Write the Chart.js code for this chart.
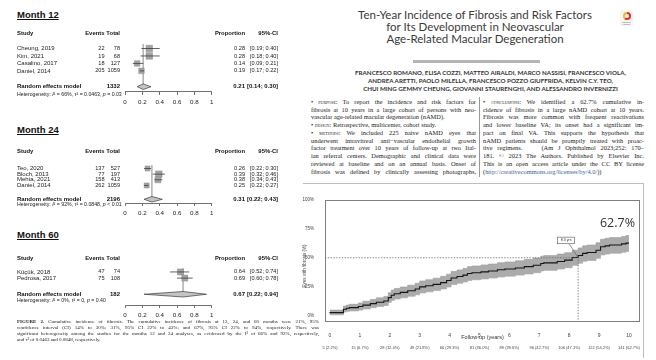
<!DOCTYPE html>
<html>
<head>
<meta charset="utf-8">
<script src="https://cdn.jsdelivr.net/npm/chart.js@4.4.1/dist/chart.umd.min.js"></script>
<style>
  body { margin: 0; background: #fff; }
  #page { position: relative; width: 656px; height: 360px; overflow: hidden; background: #fff; color: #222; font-family: "Liberation Serif", serif; }
  .abs { position: absolute; }
  .mtitle { font: bold 9.5px "Liberation Sans", Arial, sans-serif; text-decoration: underline; color: #111; white-space: nowrap; }
  .ttl { left: 330px; top: 9px; width: 290px; text-align: center; font: 11.5px/12px Lato, sans-serif; color: #3a3a3a; white-space: nowrap; }
  .auth { left: 330px; top: 68.9px; width: 321px; text-align: center; font: bold 6.2px/8.2px Lato, sans-serif; color: #333; white-space: nowrap; }
  .col { font: 6.4px/7.75px "Liberation Serif", serif; color: #222; }
  .col div, #cap div { white-space: nowrap; overflow: visible; }
  .j { text-align: justify; text-align-last: justify; }
  .sc { font-variant: small-caps; }
  #cap { left: 17px; top: 318.8px; width: 302px; font: 5px/6.1px "Liberation Serif", serif; color: #222; }
  canvas { position: absolute; }
</style>
</head>
<body>
<div id="page">
  <div class="abs mtitle" style="left:17px;top:9px">Month 12</div>
  <div class="abs mtitle" style="left:17px;top:124px">Month 24</div>
  <div class="abs mtitle" style="left:17px;top:229px">Month 60</div>
  <canvas id="f12" width="310" height="10"></canvas>
  <canvas id="f24" width="310" height="10"></canvas>
  <canvas id="f60" width="310" height="10"></canvas>

  <div class="abs ttl">Ten-Year Incidence of Fibrosis and Risk Factors<br>for Its Development in Neovascular<br>Age-Related Macular Degeneration</div>
  <div class="abs" style="left:620px;top:10px;width:13px;height:16px;background:#f4f4f4;border-radius:1px">
    <div style="position:absolute;left:2.5px;top:1.5px;width:8px;height:8px;border-radius:50%;background:conic-gradient(#d9302c 0 60%,#f2b632 60% 100%)"></div>
    <div style="position:absolute;left:4.5px;top:3.5px;width:4px;height:4px;border-radius:50%;background:#f4f4f4"></div>
    <div style="position:absolute;left:0;top:11px;width:13px;text-align:center;font:2px/2.2px sans-serif;color:#666">Check for<br>updates</div>
  </div>
  <div class="abs" style="left:413px;top:60px;width:127px;height:3px;background:#b4b4b4"></div>
  <div class="abs auth">FRANCESCO ROMANO, ELISA COZZI, MATTEO AIRALDI, MARCO NASSISI, FRANCESCO VIOLA,<br>ANDREA ARETTI, PAOLO MILELLA, FRANCESCO POZZO GIUFFRIDA, KELVIN C.Y. TEO,<br>CHUI MING GEMMY CHEUNG, GIOVANNI STAURENGHI, AND ALESSANDRO INVERNIZZI</div>

  <div class="abs col" style="left:311px;top:97.8px;width:165px">
    <div class="j"><span class="sc">• purpose:</span> To report the incidence and risk factors for</div>
    <div class="j">fibrosis at 10 years in a large cohort of persons with neo-</div>
    <div>vascular age-related macular degeneration (nAMD).</div>
    <div><span class="sc">• design:</span> Retrospective, multicenter, cohort study.</div>
    <div class="j"><span class="sc">• methods:</span> We included 225 naive nAMD eyes that</div>
    <div class="j">underwent intravitreal anti−vascular endothelial growth</div>
    <div class="j">factor treatment over 10 years of follow-up at two Ital-</div>
    <div class="j">ian referral centers. Demographic and clinical data were</div>
    <div class="j">reviewed at baseline and on an annual basis. Onset of</div>
    <div class="j">fibrosis was defined by clinically assessing photographs,</div>
  </div>
  <div class="abs" style="left:479px;top:97px;width:0.7px;height:80px;background:#999"></div>
  <div class="abs col" style="left:483px;top:97.8px;width:161px">
    <div class="j"><span class="sc">• conclusions:</span> We identified a 62.7% cumulative in-</div>
    <div class="j">cidence of fibrosis in a large nAMD cohort at 10 years.</div>
    <div class="j">Fibrosis was more common with frequent reactivations</div>
    <div class="j">and lower baseline VA; its onset had a significant im-</div>
    <div class="j">pact on final VA. This supports the hypothesis that</div>
    <div class="j">nAMD patients should be promptly treated with proac-</div>
    <div class="j">tive regimens. &nbsp;&nbsp;&nbsp;(Am J Ophthalmol 2023;252: 170–</div>
    <div class="j">181. © 2023 The Authors. Published by Elsevier Inc.</div>
    <div class="j">This is an open access article under the CC BY license</div>
    <div>(<span style="color:#3b5f9e">http://creativecommons.org/licenses/by/4.0/</span>))</div>
  </div>

  <div class="abs" style="left:303px;top:183px;width:340px;height:174px;border:1px solid #bdbdbd;border-left:none;border-bottom:none"></div>
  <canvas id="km" width="355" height="166" style="left:290px;top:190px"></canvas>

  <div id="cap" class="abs">
    <div class="j"><b>FIGURE 2.</b> Cumulative incidence of fibrosis. The cumulative incidence of fibrosis at 12, 24, and 60 months were 21%, 95%</div>
    <div class="j">confidence interval (CI) 14% to 30%; 31%, 95% CI 22% to 43%; and 67%, 95% CI 22% to 94%, respectively. There was</div>
    <div class="j">significant heterogeneity among the studies for the months 12 and 24 analyses, as evidenced by the I² of 66% and 92%, respectively,</div>
    <div>and τ² of 0.0463 and 0.0848, respectively.</div>
  </div>
</div>

<script>
// forest plots (proportions, random effects)
const forestTicks = [0, 0.2, 0.4, 0.6, 0.8, 1];

const m12Study = ['Cheung, 2019', 'Kim, 2021', 'Casalino, 2017', 'Daniel, 2014'];
const m12Events = [22, 19, 18, 205];
const m12Total = [78, 68, 127, 1059];
const m12Prop = [0.28, 0.28, 0.14, 0.19];
const m12Lower = [0.19, 0.18, 0.09, 0.17];
const m12Upper = [0.40, 0.40, 0.21, 0.22];
const m12Pooled = [0.21, 0.14, 0.30];
const m12N = 1332;
const m12Het = ['66%', '0.0463', ' = 0.03'];

const m24Study = ['Teo, 2020', 'Bloch, 2013', 'Mehta, 2021', 'Daniel, 2014'];
const m24Events = [137, 77, 158, 262];
const m24Total = [527, 197, 413, 1059];
const m24Prop = [0.26, 0.39, 0.38, 0.25];
const m24Lower = [0.22, 0.32, 0.34, 0.22];
const m24Upper = [0.30, 0.46, 0.43, 0.27];
const m24Pooled = [0.31, 0.22, 0.43];
const m24N = 2196;
const m24Het = ['92%', '0.0848', ' < 0.01'];

const m60Study = ['Küçük, 2018', 'Pedrosa, 2017'];
const m60Events = [47, 75];
const m60Total = [74, 108];
const m60Prop = [0.64, 0.69];
const m60Lower = [0.52, 0.60];
const m60Upper = [0.74, 0.78];
const m60Pooled = [0.67, 0.22, 0.94];
const m60N = 182;
const m60Het = ['0%', '0', ' = 0.40'];

// cumulative incidence curve
const kmYears = [0, 0.45, 0.55, 0.65, 0.95, 1.1, 1.35, 1.55, 1.8, 1.95, 2.05, 2.15, 2.35, 2.6, 2.85, 3.0, 3.2, 3.45, 3.7, 3.9, 4.05, 4.25, 4.45, 4.6, 4.75, 5.05, 5.3, 5.6, 5.85, 6.2, 6.5, 6.8, 7.05, 7.15, 7.6, 7.85, 8.1, 8.3, 8.45, 8.6, 8.9, 9.05, 9.2, 9.35, 9.75, 9.9, 10.0];
const kmCum = [2.0, 2.5, 5.5, 6.3, 6.8, 7.8, 9.0, 10.3, 11.5, 12.6, 15.5, 17.5, 18.8, 20.0, 21.5, 23.0, 24.8, 25.8, 27.0, 28.5, 30.3, 32.5, 33.8, 35.0, 36.4, 37.0, 37.8, 38.6, 39.6, 40.3, 41.2, 42.3, 43.5, 45.0, 45.6, 46.8, 48.0, 50.2, 52.0, 53.8, 54.5, 56.5, 59.5, 60.3, 61.0, 62.0, 62.7];
const kmLower = [0.4, 0.6, 3.0, 3.6, 4.0, 4.7, 5.7, 6.8, 7.8, 8.7, 11.3, 13.1, 14.3, 15.4, 16.7, 18.0, 19.6, 20.5, 21.6, 23.0, 24.7, 26.8, 28.0, 29.1, 30.4, 31.0, 31.7, 32.5, 33.4, 34.1, 35.0, 36.0, 37.1, 38.6, 39.1, 40.3, 41.4, 43.5, 45.3, 47.0, 47.7, 49.6, 52.5, 53.2, 53.9, 54.8, 55.5];
const kmUpper = [4.2, 4.7, 8.2, 9.1, 9.7, 10.9, 12.4, 13.9, 15.3, 16.5, 19.8, 22.0, 23.4, 24.7, 26.3, 28.0, 29.9, 31.0, 32.3, 33.9, 35.8, 38.1, 39.5, 40.8, 42.3, 42.9, 43.8, 44.6, 45.7, 46.4, 47.4, 48.5, 49.8, 51.3, 51.9, 53.2, 54.4, 56.6, 58.5, 60.3, 61.0, 63.0, 66.0, 66.8, 67.5, 68.5, 69.2];
const kmTickYears = [0, 1, 2, 3, 4, 5, 6, 7, 8, 9, 10];
const kmAtRisk = ['5 (2.2%)', '15 (6.7%)', '28 (12.4%)', '49 (21.8%)', '66 (29.3%)', '81 (36.0%)', '89 (39.6%)', '96 (42.7%)', '106 (47.1%)', '122 (54.2%)', '141 (62.7%)'];
const kmPctTicks = [0, 25, 50, 75, 100];
const kmMedian = 8.3;
const kmFinalLabel = '62.7%';

const SANS = '"Liberation Sans", Arial, sans-serif';

// page layout of the three panels (pixels)
const panels = [
  { id: 'f12', study: m12Study, events: m12Events, total: m12Total, prop: m12Prop, lo: m12Lower, hi: m12Upper, pooled: m12Pooled, n: m12N, het: m12Het,
    headY: 29, firstY: 45, rowPx: 8, sumY: 86, axisY: 91.7, hetY: 94, box: [6.5, 6.5, 5.5, 5.5] },
  { id: 'f24', study: m24Study, events: m24Events, total: m24Total, prop: m24Prop, lo: m24Lower, hi: m24Upper, pooled: m24Pooled, n: m24N, het: m24Het,
    headY: 146.7, firstY: 165, rowPx: 6.1, sumY: 198.3, axisY: 202.3, hetY: 204.3, box: [5, 6.5, 6, 5] },
  { id: 'f60', study: m60Study, events: m60Events, total: m60Total, prop: m60Prop, lo: m60Lower, hi: m60Upper, pooled: m60Pooled, n: m60N, het: m60Het,
    headY: 254, firstY: 269, rowPx: 6.7, sumY: 293.3, axisY: 305, hetY: 300, box: [6, 6] }
];

function drawRuns(ctx, x, y, runs, size) {
  runs.forEach(function(r) {
    ctx.font = r[1] + ' ' + size + 'px ' + SANS;
    ctx.fillText(r[0], x, y);
    x += ctx.measureText(r[0]).width;
  });
}

function forestTextPlugin(p) {
  return {
    id: 'forestText',
    afterDraw(chart) {
      const ctx = chart.ctx;
      const y = chart.scales.y;
      const row = v => y.getPixelForValue(v);
      const headRow = (p.headY - p.firstY) / p.rowPx;
      const sumRow = (p.sumY - p.firstY) / p.rowPx;
      const hetRow = (p.hetY - p.firstY) / p.rowPx;
      ctx.save();
      ctx.fillStyle = '#111';
      ctx.textBaseline = 'middle';
      // header
      ctx.font = 'bold 5.9px ' + SANS;
      ctx.textAlign = 'left';
      ctx.fillText('Study', 17, row(headRow));
      ctx.textAlign = 'right';
      ctx.fillText('Events', 104.5, row(headRow));
      ctx.fillText('Total', 120, row(headRow));
      ctx.fillText('Proportion', 245, row(headRow));
      ctx.fillText('95%-CI', 278, row(headRow));
      // studies
      ctx.fillStyle = '#222';
      p.study.forEach(function(s, i) {
        const yy = row(i);
        ctx.font = '6px ' + SANS;
        ctx.textAlign = 'left';
        ctx.fillText(s, 17, yy);
        ctx.textAlign = 'right';
        ctx.font = '5.6px ' + SANS;
        ctx.fillText(String(p.events[i]), 104.5, yy);
        ctx.fillText(String(p.total[i]), 120, yy);
        ctx.fillText(p.prop[i].toFixed(2), 245, yy);
        ctx.fillText('[' + p.lo[i].toFixed(2) + '; ' + p.hi[i].toFixed(2) + ']', 278, yy);
      });
      // random effects row
      ctx.font = 'bold 6px ' + SANS;
      ctx.fillStyle = '#111';
      const ys = row(sumRow);
      ctx.textAlign = 'left';
      ctx.fillText('Random effects model', 17, ys);
      ctx.textAlign = 'right';
      ctx.fillText(String(p.n), 120, ys);
      ctx.fillText(p.pooled[0].toFixed(2), 245, ys);
      ctx.fillText('[' + p.pooled[1].toFixed(2) + '; ' + p.pooled[2].toFixed(2) + ']', 278, ys);
      // heterogeneity
      ctx.textAlign = 'left';
      ctx.fillStyle = '#222';
      drawRuns(ctx, 17, row(hetRow), [
        ['Heterogeneity: ', ''], ['I', 'italic'], ['² = ' + p.het[0] + ', ', ''],
        ['τ', 'italic'], ['² = ' + p.het[1] + ', ', ''], ['p', 'italic'], [p.het[2], '']
      ], 5.2);
      ctx.restore();
    }
  };
}

function makeForest(p) {
  const canvas = document.getElementById(p.id);
  const top = p.headY - 7;
  const axisH = 16;
  canvas.height = Math.round(p.axisY - top + axisH);
  canvas.style.left = '0px';
  canvas.style.top = top + 'px';
  const sumRow = (p.sumY - p.firstY) / p.rowPx;
  const dh = 3 / p.rowPx;

  const datasets = [];
  // line at pooled estimate
  datasets.push({
    data: [{ x: p.pooled[0], y: -0.6 }, { x: p.pooled[0], y: sumRow }],
    showLine: true, pointRadius: 0, borderColor: '#b0b0b0', borderWidth: 0.8, order: 5
  });
  // squares
  datasets.push({
    data: p.prop.map((v, i) => ({ x: v, y: i })),
    pointStyle: 'rect', pointRadius: p.box.map(s => s / Math.SQRT2),
    backgroundColor: '#a3a3a3', borderColor: '#8c8c8c', borderWidth: 0.5, order: 4
  });
  // confidence intervals
  p.lo.forEach(function(lo, i) {
    datasets.push({
      data: [{ x: lo, y: i }, { x: p.hi[i], y: i }],
      showLine: true, pointRadius: 0, borderColor: '#3a3a3a', borderWidth: 0.8, order: 1
    });
  });
  // diamond
  datasets.push({
    data: [
      { x: p.pooled[1], y: sumRow }, { x: p.pooled[0], y: sumRow - dh },
      { x: p.pooled[2], y: sumRow }, { x: p.pooled[0], y: sumRow + dh },
      { x: p.pooled[1], y: sumRow }
    ],
    showLine: true, pointRadius: 0, fill: 'shape', backgroundColor: '#c4c4c4',
    borderColor: '#3a3a3a', borderWidth: 0.7, order: 0
  });

  new Chart(canvas, {
    type: 'scatter',
    data: { datasets: datasets },
    options: {
      responsive: false,
      animation: false,
      events: [],
      layout: { padding: { left: 125, right: 310 - 211.7, top: 0, bottom: 0 } },
      plugins: { legend: { display: false }, tooltip: { enabled: false } },
      scales: {
        x: {
          type: 'linear', min: 0, max: 1,
          afterBuildTicks: s => { s.ticks = forestTicks.map(v => ({ value: v })); },
          afterFit: s => { s.height = axisH; },
          grid: { drawOnChartArea: false, drawTicks: true, tickLength: 3, color: '#333', lineWidth: 0.7 },
          border: { display: true, color: '#333', width: 0.7 },
          ticks: { font: { size: 6.2, family: SANS }, color: '#222', padding: 4, maxRotation: 0, autoSkip: false, callback: v => String(v) }
        },
        y: {
          type: 'linear', display: false, reverse: true,
          min: (top - p.firstY) / p.rowPx,
          max: (p.axisY - p.firstY) / p.rowPx
        }
      }
    },
    plugins: [forestTextPlugin(p)]
  });
}

panels.forEach(makeForest);

// cumulative incidence chart
const kmXMin = -0.167, kmXMax = 10.37, kmYMin = -5.6, kmYMax = 100;
const kmPts = arr => kmYears.map((t, i) => ({ x: t, y: arr[i] }));

const kmDecor = {
  id: 'kmDecor',
  afterDraw(chart) {
    const ctx = chart.ctx, a = chart.chartArea, x = chart.scales.x, y = chart.scales.y;
    ctx.save();
    ctx.strokeStyle = '#808080';
    ctx.lineWidth = 1;
    ctx.strokeRect(a.left + 0.5, a.top + 0.5, a.width - 1, a.height - 1);
    ctx.fillStyle = '#333';
    ctx.textAlign = 'center';
    ctx.textBaseline = 'middle';
    ctx.font = '5.5px ' + SANS;
    ctx.fillText('Follow-up (years)', (a.left + a.right) / 2, a.bottom + 15.7);
    ctx.font = '4px ' + SANS;
    ctx.fillStyle = '#444';
    kmTickYears.forEach((t, i) => ctx.fillText(kmAtRisk[i], x.getPixelForValue(t), a.bottom + 25.7));
    // median label
    const mx = x.getPixelForValue(kmMedian), my = y.getPixelForValue(50);
    const bx = x.getPixelForValue(kmMedian - 0.4), by = y.getPixelForValue(65);
    ctx.strokeStyle = '#555';
    ctx.lineWidth = 0.6;
    ctx.beginPath();
    ctx.moveTo(bx + 3, by + 3.3);
    ctx.lineTo(mx, my);
    ctx.stroke();
    ctx.fillStyle = '#fff';
    ctx.fillRect(bx - 8.5, by - 3.3, 17, 6.6);
    ctx.strokeRect(bx - 8.5, by - 3.3, 17, 6.6);
    ctx.fillStyle = '#333';
    ctx.font = '3.6px ' + SANS;
    ctx.fillText(kmMedian + ' yrs', bx, by);
    // final value
    ctx.font = '12.5px "Open Sans", sans-serif';
    ctx.textAlign = 'right';
    ctx.fillStyle = '#333';
    ctx.fillText(kmFinalLabel, a.right - 5, y.getPixelForValue(80));
    // y title
    ctx.translate(a.left - 20, (a.top + a.bottom) / 2 + 5);
    ctx.rotate(-Math.PI / 2);
    ctx.textAlign = 'center';
    ctx.font = '4.5px ' + SANS;
    ctx.fillStyle = '#444';
    ctx.fillText('Eyes with fibrosis (%)', 0, 0);
    ctx.restore();
  }
};

new Chart(document.getElementById('km'), {
  type: 'scatter',
  data: {
    datasets: [
      { data: kmPts(kmUpper), showLine: true, stepped: 'after', pointRadius: 0, borderColor: '#9a9a9a', borderWidth: 0.6, fill: '+1', backgroundColor: '#ababab', order: 3 },
      { data: kmPts(kmLower), showLine: true, stepped: 'after', pointRadius: 0, borderColor: '#9a9a9a', borderWidth: 0.6, order: 3 },
      { data: kmPts(kmCum), showLine: true, stepped: 'after', pointRadius: 0, borderColor: '#151515', borderWidth: 1.1, order: 1 },
      { data: [{ x: kmXMin, y: 50 }, { x: kmMedian, y: 50 }, { x: kmMedian, y: kmYMin }], showLine: true, pointRadius: 0,
        borderColor: '#6a6a6a', borderWidth: 0.8, borderDash: [1.4, 1.4], order: 0 }
    ]
  },
  options: {
    responsive: false,
    animation: false,
    events: [],
    layout: { padding: { left: 0, right: 5, top: 10, bottom: 0 } },
    plugins: { legend: { display: false }, tooltip: { enabled: false } },
    scales: {
      x: {
        type: 'linear', min: kmXMin, max: kmXMax,
        afterBuildTicks: s => { s.ticks = kmTickYears.map(v => ({ value: v })); },
        afterFit: s => { s.height = 34; },
        grid: { display: false },
        border: { display: false },
        ticks: { font: { size: 5, family: SANS }, color: '#444', padding: 3, maxRotation: 0, autoSkip: false }
      },
      y: {
        type: 'linear', min: kmYMin, max: kmYMax,
        afterBuildTicks: s => { s.ticks = kmPctTicks.map(v => ({ value: v })); },
        afterFit: s => { s.width = 35; },
        grid: { display: false },
        border: { display: false },
        ticks: { font: { size: 4.5, family: SANS }, color: '#444', padding: 3, autoSkip: false, callback: v => v + '%' }
      }
    }
  },
  plugins: [kmDecor]
});
</script>
</body>
</html>
